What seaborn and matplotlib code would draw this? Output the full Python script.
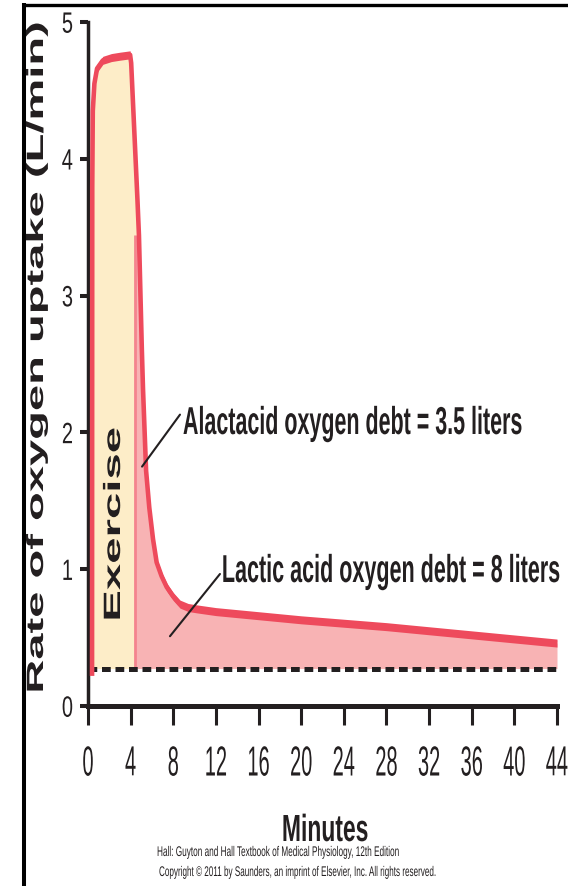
import numpy as np
import matplotlib
matplotlib.use("Agg")
import matplotlib.pyplot as plt
import seaborn as sns
from matplotlib.patheffects import AbstractPathEffect
from matplotlib.transforms import Affine2D
from matplotlib.lines import Line2D

# ---------------- data ----------------
minutes = [0.38, 0.40, 0.45, 0.6, 0.85, 1.4, 2.2, 3.0, 3.95, 4.05, 4.64, 4.78,
           5.05, 5.16, 5.45, 5.75, 6.1, 6.44, 6.9, 7.38, 8.0, 8.63, 9.4, 10.2,
           12, 16, 20, 24, 28, 32, 36, 40, 44]
uptake = [0.22, 3.8, 4.35, 4.55, 4.66, 4.72, 4.74, 4.75, 4.76, 4.70, 3.70, 3.44,
          2.61, 2.32, 1.72, 1.45, 1.22, 1.05, 0.95, 0.87, 0.80, 0.745, 0.72, 0.71,
          0.69, 0.66, 0.63, 0.605, 0.58, 0.55, 0.52, 0.49, 0.46]
resting_uptake = 0.274
exercise_end = 4.38
alactacid_split = 3.44

minute_ticks = [0, 4, 8, 12, 16, 20, 24, 28, 32, 36, 40, 44]
minute_labels = [str(v) for v in minute_ticks]
uptake_ticks = [0, 1, 2, 3, 4, 5]
uptake_labels = [str(v) for v in uptake_ticks]

y_label = "Rate of oxygen uptake (L/min)"
x_label = "Minutes"
exercise_label = "Exercise"
alactacid_label = "Alactacid oxygen debt = 3.5 liters"
lactic_label = "Lactic acid oxygen debt = 8 liters"
credit_lines = ["Hall: Guyton and Hall Textbook of Medical Physiology, 12th Edition",
                "Copyright \u00a9 2011 by Saunders, an imprint of Elsevier, Inc. All rights reserved."]

alactacid_pointer = {"from": (8.63, 2.13), "to": (5.07, 1.75)}
lactic_pointer = {"from": (12.38, 0.965), "to": (7.69, 0.51)}

RED = "#EE4A5C"
PINK = "#F8B3B4"
YELLOW = "#FDEDC8"
THIN = "#F4848E"
INK = "#231F20"


class Stretch(AbstractPathEffect):
    """Draw text glyphs stretched in the text's own frame (keeps real text)."""

    def __init__(self, sx=1.0, sy=1.0, fx=0.5, fy=None, width_px=None):
        super().__init__((0, 0))
        self.sx, self.sy, self.fx, self.fy, self.width_px = sx, sy, fx, fy, width_px

    def draw_path(self, renderer, gc, tpath, affine, rgbFace=None):
        if len(tpath.vertices) == 0:
            return
        ext = tpath.get_extents()
        px = ext.x0 + self.fx * ext.width
        py = 0.0 if self.fy is None else ext.y0 + self.fy * ext.height
        sx = self.sx
        if self.width_px is not None and ext.width > 0:
            m = affine.get_matrix()
            scale = np.hypot(m[0, 0], m[1, 0])
            sx = self.width_px / (ext.width * scale)
        local = Affine2D().translate(-px, -py).scale(sx, self.sy).translate(px, py)
        renderer.draw_path(gc, tpath, local + affine, rgbFace)


sns.set_theme(style="white")
plt.rcParams["font.family"] = ["Liberation Sans", "DejaVu Sans"]

W, H = 568, 887
fig = plt.figure(figsize=(W / 100, H / 100), dpi=100)
fig.patch.set_facecolor("white")
ax = fig.add_axes([88 / W, 1 - 707 / H, 469 / W, 684 / H])
ax.set_facecolor("none")
ax.set_xlim(0, 44)
ax.set_ylim(0, 5)


def fx(px):
    return px / W


def fy(py):
    return 1 - py / H


t = np.asarray(minutes, float)
u = np.asarray(uptake, float)

# fills
grid_y = np.linspace(t[0], 5.0, 400)
top_y = np.interp(grid_y, t, u)
ax.fill_between(grid_y, resting_uptake, top_y, where=top_y >= resting_uptake,
                color=YELLOW, lw=0, zorder=1)
grid_p = np.linspace(exercise_end, 44, 1200)
top_p = np.minimum(np.interp(grid_p, t, u), alactacid_split)
ax.fill_between(grid_p, resting_uptake, top_p, color=PINK, lw=0, zorder=1.2)
ax.vlines(exercise_end, resting_uptake, alactacid_split, color=THIN, lw=2.0, zorder=1.5)

# resting baseline
ax.hlines(resting_uptake, 0, 44, colors="#231F20", lw=3.6,
          linestyles=(0, (1.75, 0.95)), zorder=2)

# uptake curve: thin stroke + vertical band to mimic the stretched pen
sns.lineplot(x=minutes, y=uptake, ax=ax, color=RED, linewidth=3.3, sort=False,
             estimator=None, legend=False, zorder=4, solid_joinstyle="round",
             solid_capstyle="butt", clip_on=False)
ppu = ax.transData.transform((0, 1))[1] - ax.transData.transform((0, 0))[1]
d = 4.0 / ppu
ax.fill_between(t, u - d, u + d, color=RED, lw=0, zorder=4, clip_on=False)

# pointers
for p in (alactacid_pointer, lactic_pointer):
    ax.annotate("", xy=p["to"], xytext=p["from"],
                arrowprops=dict(arrowstyle="-", lw=1.5, color=INK,
                                shrinkA=0, shrinkB=0), zorder=5)

# axes styling
for s in ("top", "right"):
    ax.spines[s].set_visible(False)
ax.spines["left"].set_linewidth(2.5)
ax.spines["bottom"].set_linewidth(3.6)
for s in ("left", "bottom"):
    ax.spines[s].set_color(INK)
ax.set_xticks(minute_ticks, minute_labels)
ax.set_yticks(uptake_ticks, uptake_labels)
ax.tick_params(axis="x", direction="out", length=13.7, width=2.2, pad=14.5,
               labelsize=14.4, color=INK, labelcolor=INK, bottom=True)
ax.tick_params(axis="y", direction="out", length=5.8, width=2.9, pad=5.0,
               labelsize=14.4, color=INK, labelcolor=INK, left=True)
for lab in ax.get_xticklabels():
    lab.set_path_effects([Stretch(sy=2.1, fx=0.5, fy=1.0)])
for lab in ax.get_yticklabels():
    lab.set_path_effects([Stretch(sy=1.47, fx=1.0, fy=0.5)])
ax.set_xlabel("")
ax.set_ylabel("")
ax.grid(False)

# texts
fig.text(fx(43), fy(358), y_label, rotation=90, rotation_mode="anchor",
         ha="center", va="baseline", fontsize=17, fontweight="bold", color=INK,
         path_effects=[Stretch(width_px=667, fx=0.5)])
fig.text(fx(120), fy(525), exercise_label, rotation=90, rotation_mode="anchor",
         ha="center", va="baseline", fontsize=17, fontweight="bold", color=INK,
         path_effects=[Stretch(width_px=190, fx=0.5)])
fig.text(fx(183), fy(435), alactacid_label, ha="left", va="baseline",
         fontsize=14, fontweight="bold", color=INK,
         path_effects=[Stretch(width_px=338, sy=2.0, fx=0.0)])
fig.text(fx(222), fy(583), lactic_label, ha="left", va="baseline",
         fontsize=14, fontweight="bold", color=INK,
         path_effects=[Stretch(width_px=336, sy=2.0, fx=0.0)])
fig.text(fx(325), fy(842), x_label, ha="center", va="baseline",
         fontsize=16, fontweight="bold", color=INK,
         path_effects=[Stretch(width_px=84, sy=1.7, fx=0.5)])
fig.text(fx(157), fy(857), credit_lines[0], ha="left", va="baseline",
         fontsize=6, color=INK, path_effects=[Stretch(width_px=241, sy=1.68, fx=0.0)])
fig.text(fx(159), fy(877), credit_lines[1], ha="left", va="baseline",
         fontsize=6, color=INK, path_effects=[Stretch(width_px=276, sy=1.68, fx=0.0)])

# black frame (left and top)
fig.add_artist(Line2D([fx(24), fx(24)], [0, fy(4)], transform=fig.transFigure,
                      color="black", lw=2.9, solid_capstyle="butt"))
fig.add_artist(Line2D([fx(22), 1], [fy(5.7), fy(5.7)], transform=fig.transFigure,
                      color="black", lw=2.4, solid_capstyle="butt"))

fig.savefig("out.png", dpi=100)
